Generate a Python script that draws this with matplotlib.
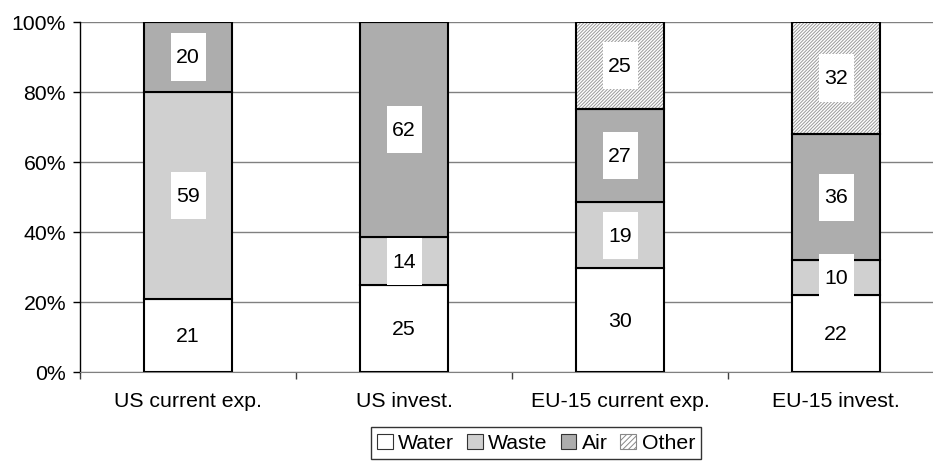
import numpy as np
import matplotlib
matplotlib.use("Agg")
from matplotlib import pyplot as plt
from matplotlib.patches import Patch, Rectangle

# Data (shares in %, each bar rescaled to 100%)
categories = ["US current exp.", "US invest.", "EU-15 current exp.", "EU-15 invest."]
series     = ["Water", "Waste", "Air", "Other"]
water = np.array([21, 25, 30, 22])
waste = np.array([59, 14, 19, 10])
air   = np.array([20, 62, 27, 36])
other = np.array([0, 0, 25, 32])

values = np.vstack([water, waste, air, other]).astype(float)
shares = values / values.sum(axis=0) * 100

# Styles
fs      = 15.3
colors  = ["white", "#d0d0d0", "#adadad", "white"]
hatches = [None, None, None, "//////////"]
bw      = 0.41

plt.rcParams["font.family"] = ["Liberation Sans", "DejaVu Sans"]
plt.rcParams["hatch.linewidth"] = 0.7

fig = plt.figure(figsize=(9.33, 4.64), dpi=100)
ax  = fig.add_axes([80/933, 1-373/464, 864/933, 350/464])

x = np.arange(len(categories))
bottom = np.zeros(len(categories))
for i, name in enumerate(series):
    h = shares[i]
    if hatches[i]:
        ax.bar(x, h, bw, bottom=bottom, color=colors[i], hatch=hatches[i],
               edgecolor="#9a9a9a", linewidth=0, zorder=2)
        ax.bar(x, h, bw, bottom=bottom, fill=False, edgecolor="black",
               linewidth=1.5, zorder=3)
    else:
        ax.bar(x, h, bw, bottom=bottom, color=colors[i], edgecolor="black",
               linewidth=1.5, zorder=3)
    # value labels in white boxes
    for j in range(len(categories)):
        if values[i, j] <= 0:
            continue
        yc = bottom[j] + h[j] / 2
        bxw, bxh = 35/216, 47/3.5
        ax.add_patch(Rectangle((x[j]-bxw/2, yc-bxh/2), bxw, bxh,
                               facecolor="white", edgecolor="none", zorder=4))
        ax.text(x[j], yc, "%d" % values[i, j], ha="center", va="center",
                fontsize=fs, zorder=5)
    bottom += h

ax.set_xlim(-0.5, 3.5)
ax.set_ylim(0, 100)
ax.set_yticks(np.arange(0, 101, 20))
ax.set_yticklabels(["%d%%" % v for v in range(0, 101, 20)], fontsize=fs)
ax.set_xticks(x)
ax.set_xticklabels(categories, fontsize=fs)
ax.set_xticks(np.arange(-0.5, 3.6, 1), minor=True)
ax.tick_params(axis="x", which="major", length=0, pad=14)
ax.tick_params(axis="x", which="minor", length=5, width=1, color="#404040")
ax.tick_params(axis="y", length=5, width=1, pad=5)

ax.yaxis.grid(True, color="#808080", linewidth=1)
ax.set_axisbelow(True)
for s in ["top", "right"]:
    ax.spines[s].set_visible(False)
ax.spines["bottom"].set_color("#808080")
ax.spines["left"].set_linewidth(1)

handles = [Patch(facecolor=colors[i], edgecolor="#333333", linewidth=0.8,
                 hatch=hatches[i]) for i in range(len(series))]
handles[3] = Patch(facecolor="white", edgecolor="#888888", linewidth=0.8, hatch="//////")
leg = fig.legend(handles, series, loc="center", bbox_to_anchor=(536/933, 1-444/464),
                 ncol=4, fontsize=fs, frameon=True, fancybox=False,
                 handlelength=0.75, handleheight=0.7, handletextpad=0.25,
                 columnspacing=0.6, borderpad=0.3, borderaxespad=0)
leg.get_frame().set_edgecolor("black")
leg.get_frame().set_linewidth(1)

fig.savefig("out.png", dpi=100)
